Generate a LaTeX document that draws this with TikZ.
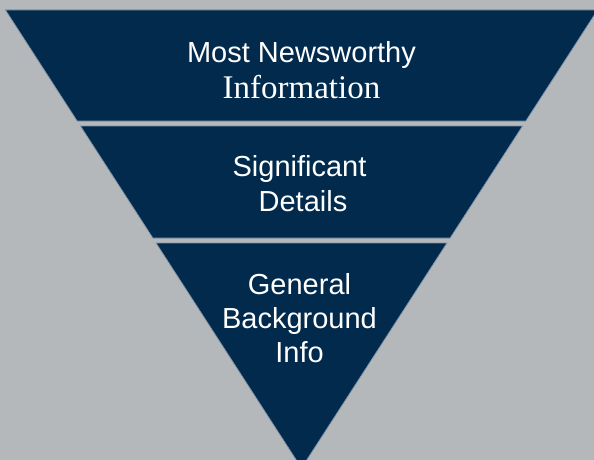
\documentclass[tikz,border=0pt]{standalone}
\usepackage{fontspec}
\setmainfont{Liberation Sans}
\newfontfamily\serifface{Liberation Serif}
\definecolor{navy}{HTML}{012A4D}
\definecolor{backgray}{HTML}{B4B8BB}
\definecolor{bandedge}{HTML}{7F93A8}
\begin{document}
\begin{tikzpicture}[x=1pt,y=-1pt,
  band/.style={fill=navy,draw=bandedge,line width=0.7pt,line join=miter},
  label/.style={text=white,anchor=base,inner sep=0pt,font=\fontsize{29}{29}\selectfont}]
  \useasboundingbox (0,0) rectangle (594,460);
  \fill[backgray] (0,0) rectangle (594,460);
  \clip (0,0) rectangle (594,460);
  % three slices of one inverted triangle, apex at (301.5,468)
  \path[band] (5.5,10) -- (597.5,10) -- (525.8,121) -- (77.2,121) -- cycle;
  \path[band] (80.5,126) -- (522.5,126) -- (450.1,238) -- (152.9,238) -- cycle;
  \path[band] (156.1,243) -- (446.9,243) -- (301.5,468) -- cycle;
  % slice labels
  \node[label] (top1) at (301.5,63) {Most Newsworthy};
  \node[label,font=\serifface\fontsize{33}{33}\selectfont] (top2) at (301.5,98) {Information};
  \node[label] (mid1) at (299.5,176) {Significant};
  \node[label] (mid2) at (303,211) {Details};
  \node[label] (low1) at (299.5,294) {General};
  \node[label] (low2) at (299.5,328) {Background};
  \node[label] (low3) at (299.5,362) {Info};
\end{tikzpicture}
\end{document}
